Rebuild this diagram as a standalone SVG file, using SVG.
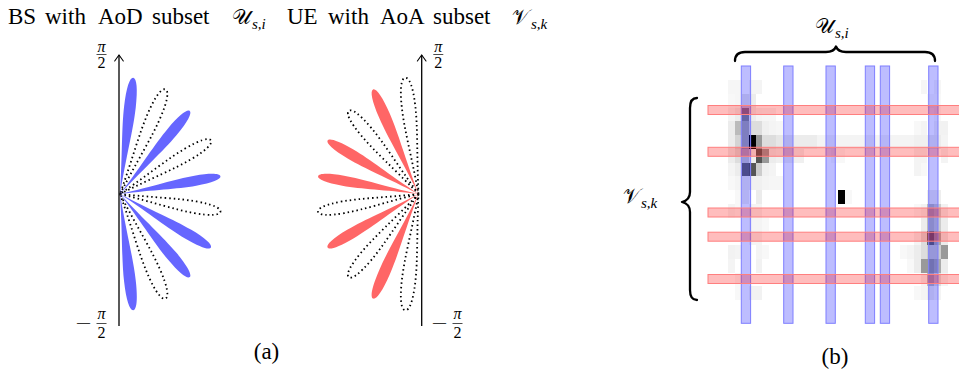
<svg xmlns="http://www.w3.org/2000/svg" xmlns:xlink="http://www.w3.org/1999/xlink" width="959" height="369" viewBox="0 0 959 369">
<style>
  text { font-family: "Liberation Serif", "DejaVu Serif", serif; fill: #000; }
  .t { font-size: 23px; }
  .m { font-style: italic; }
  .cal { font-family: "DejaVu Serif", "DejaVu Sans", "Noto Sans", serif; font-size: 21px; font-style: normal; font-weight: normal; }
  .sub { font-size: 15px; font-style: italic; }
  .frac { font-size: 16px; text-anchor: middle; }
  .axis { stroke: #000; stroke-width: 1.3; fill: none; }
  .bar { stroke-width: 1; }
  .aod { fill: #0000ff; fill-opacity: 0.26; stroke: #7f7fff; }
  .aoa { fill: #ff0000; fill-opacity: 0.26; stroke: #ff7f7f; }
  .brace { stroke: #000; stroke-width: 2.3; fill: none; stroke-linecap: round; stroke-linejoin: round; }
  .blue { fill: #6666ff; }
  .red { fill: #ff6666; }
  .dot { fill: none; stroke: #000; stroke-width: 1.8; stroke-dasharray: 1.5 3; }
</style>
<defs>
  <marker id="arr" viewBox="-8 -6 9 12" refX="0" refY="0" markerWidth="9" markerHeight="12" markerUnits="userSpaceOnUse" orient="auto" overflow="visible">
    <path d="M-6,-4.3 Q-2.2,-1.6 0,0 Q-2.2,1.6 -6,4.3" fill="none" stroke="#000" stroke-width="1.1" stroke-linecap="round"/>
  </marker>
  <path id="lobe" d="M0,0 C35,1.8 55,5 75,5 C91,5 100,3 100,0 C100,-3 91,-5 75,-5 C55,-5 35,-1.8 0,0Z"/>
  <path id="lobeD" d="M0,0 C35,2.4 55,5.8 75,5.8 C91,5.8 100,3.6 100,0 C100,-3.6 91,-5.8 75,-5.8 C55,-5.8 35,-2.4 0,0Z" vector-effect="non-scaling-stroke"/>
</defs>
<rect width="959" height="369" fill="#fff"/>

<g id="title" class="t">
  <text y="24"><tspan x="8">BS</tspan><tspan x="45">with</tspan><tspan x="98">AoD</tspan><tspan x="152">subset</tspan></text>
  <text y="24" class="cal" x="232">𝒰</text><text x="252" y="29" class="sub">s,i</text>
  <text y="24"><tspan x="287">UE</tspan><tspan x="328">with</tspan><tspan x="380">AoA</tspan><tspan x="433">subset</tspan></text>
  <text y="24" class="cal" x="512">𝒱</text><text x="531" y="29" class="sub">s,k</text>
</g>

<g id="bs-pattern">
  <g id="bs-beams">
    <use xlink:href="#lobeD" class="dot" transform="translate(120,194) rotate(-66.5) scale(1.14)"/>
    <use xlink:href="#lobeD" class="dot" transform="translate(120,194) rotate(-30.5) scale(1.055)"/>
    <use xlink:href="#lobeD" class="dot" transform="translate(120,194) rotate(10) scale(1.02)"/>
    <use xlink:href="#lobeD" class="dot" transform="translate(120,194) rotate(66.5) scale(1.14)"/>
    <use xlink:href="#lobe" class="blue" transform="translate(120,194) rotate(-83.5) scale(1.17)"/>
    <use xlink:href="#lobe" class="blue" transform="translate(120,194) rotate(-50) scale(1.085)"/>
    <use xlink:href="#lobe" class="blue" transform="translate(120,194) rotate(-10) scale(1.02)"/>
    <use xlink:href="#lobe" class="blue" transform="translate(120,194) rotate(30.5) scale(1.055)"/>
    <use xlink:href="#lobe" class="blue" transform="translate(120,194) rotate(50) scale(1.085)"/>
    <use xlink:href="#lobe" class="blue" transform="translate(120,194) rotate(83.5) scale(1.17)"/>
  </g>
  <line class="axis" x1="119" y1="326" x2="119" y2="55" marker-end="url(#arr)"/>
  <text class="frac m" x="101.5" y="51.5">π</text>
  <line x1="96.5" y1="54.5" x2="106.5" y2="54.5" stroke="#000" stroke-width="0.7"/>
  <text class="frac" x="101.5" y="68">2</text>
  <text class="frac" x="83.5" y="329" textLength="16" lengthAdjust="spacingAndGlyphs">−</text>
  <text class="frac m" x="101.5" y="319">π</text>
  <line x1="96.5" y1="323.5" x2="106.5" y2="323.5" stroke="#000" stroke-width="0.7"/>
  <text class="frac" x="101.5" y="338">2</text>
</g>

<g id="ue-pattern">
  <g id="ue-beams">
    <use xlink:href="#lobeD" class="dot" transform="translate(418.5,194) rotate(-96.5) scale(1.17)"/>
    <use xlink:href="#lobeD" class="dot" transform="translate(418.5,194) rotate(-130) scale(1.085)"/>
    <use xlink:href="#lobeD" class="dot" transform="translate(418.5,194) rotate(170) scale(1.02)"/>
    <use xlink:href="#lobeD" class="dot" transform="translate(418.5,194) rotate(130) scale(1.085)"/>
    <use xlink:href="#lobeD" class="dot" transform="translate(418.5,194) rotate(96.5) scale(1.17)"/>
    <use xlink:href="#lobe" class="red" transform="translate(418.5,194) rotate(-113.5) scale(1.14)"/>
    <use xlink:href="#lobe" class="red" transform="translate(418.5,194) rotate(-149.5) scale(1.055)"/>
    <use xlink:href="#lobe" class="red" transform="translate(418.5,194) rotate(-170) scale(1.02)"/>
    <use xlink:href="#lobe" class="red" transform="translate(418.5,194) rotate(149.5) scale(1.055)"/>
    <use xlink:href="#lobe" class="red" transform="translate(418.5,194) rotate(113.5) scale(1.14)"/>
  </g>
  <line class="axis" x1="421.7" y1="326" x2="421.7" y2="55" marker-end="url(#arr)"/>
  <text class="frac m" x="438.3" y="51.5">π</text>
  <line x1="433.3" y1="54.5" x2="443.3" y2="54.5" stroke="#000" stroke-width="0.7"/>
  <text class="frac" x="438.3" y="68">2</text>
  <text class="frac" x="439.5" y="329" textLength="16" lengthAdjust="spacingAndGlyphs">−</text>
  <text class="frac m" x="457.5" y="319">π</text>
  <line x1="452.5" y1="323.5" x2="462.5" y2="323.5" stroke="#000" stroke-width="0.7"/>
  <text class="frac" x="457.5" y="338">2</text>
</g>

<text id="label-a" class="t" x="266.5" y="359" text-anchor="middle">(a)</text>

<g id="heatmap" transform="translate(728,80) scale(6.875,13.75)" shape-rendering="crispEdges">
  <rect x="0" y="0" width="2" height="1" fill="#f6f6f6"/><rect x="3" y="0" width="2" height="1" fill="#f4f4f4"/><rect x="28" y="0" width="1" height="1" fill="#f6f6f6"/><rect x="30" y="0" width="1" height="1" fill="#f6f6f6"/>
  <rect x="0" y="1" width="1" height="1" fill="#f8f8f8"/><rect x="1" y="1" width="1" height="1" fill="#f6f6f6"/><rect x="2" y="1" width="1" height="1" fill="#e8e8e8"/><rect x="3" y="1" width="1" height="1" fill="#ececec"/><rect x="29" y="1" width="2" height="1" fill="#f8f8f8"/>
  <rect x="0" y="2" width="1" height="1" fill="#f4f4f4"/><rect x="1" y="2" width="1" height="1" fill="#ececec"/><rect x="2" y="2" width="1" height="1" fill="#888"/><rect x="3" y="2" width="1" height="1" fill="#ececec"/><rect x="4" y="2" width="1" height="1" fill="#f4f4f4"/><rect x="5" y="2" width="2" height="1" fill="#f6f6f6"/><rect x="30" y="2" width="1" height="1" fill="#f8f8f8"/>
  <rect x="0" y="3" width="1" height="1" fill="#ececec"/><rect x="1" y="3" width="1" height="1" fill="#bbb"/><rect x="2" y="3" width="1" height="1" fill="#aaa"/><rect x="3" y="3" width="2" height="1" fill="#ddd"/><rect x="5" y="3" width="1" height="1" fill="#f0f0f0"/><rect x="6" y="3" width="1" height="1" fill="#f4f4f4"/><rect x="7" y="3" width="1" height="1" fill="#f6f6f6"/><rect x="27" y="3" width="1" height="1" fill="#f8f8f8"/><rect x="28" y="3" width="1" height="1" fill="#f4f4f4"/><rect x="30" y="3" width="2" height="1" fill="#f2f2f2"/>
  <rect x="0" y="4" width="1" height="1" fill="#ececec"/><rect x="1" y="4" width="1" height="1" fill="#d4d4d4"/><rect x="2" y="4" width="1" height="1" fill="#aaa"/><rect x="3" y="4" width="1" height="1" fill="#000"/><rect x="4" y="4" width="1" height="1" fill="#999"/><rect x="5" y="4" width="2" height="1" fill="#ddd"/><rect x="7" y="4" width="1" height="1" fill="#e6e6e6"/><rect x="8" y="4" width="5" height="1" fill="#ececec"/><rect x="13" y="4" width="14" height="1" fill="#f4f4f4"/><rect x="27" y="4" width="2" height="1" fill="#f0f0f0"/><rect x="29" y="4" width="1" height="1" fill="#eee"/><rect x="30" y="4" width="1" height="1" fill="#ececec"/><rect x="31" y="4" width="1" height="1" fill="#f4f4f4"/>
  <rect x="0" y="5" width="1" height="1" fill="#ececec"/><rect x="1" y="5" width="1" height="1" fill="#ddd"/><rect x="2" y="5" width="1" height="1" fill="#ccc"/><rect x="3" y="5" width="1" height="1" fill="#eee"/><rect x="4" y="5" width="1" height="1" fill="#555"/><rect x="5" y="5" width="1" height="1" fill="#999"/><rect x="6" y="5" width="1" height="1" fill="#ececec"/><rect x="7" y="5" width="4" height="1" fill="#f0f0f0"/><rect x="15" y="5" width="2" height="1" fill="#f8f8f8"/><rect x="27" y="5" width="2" height="1" fill="#f4f4f4"/><rect x="31" y="5" width="1" height="1" fill="#f4f4f4"/>
  <rect x="0" y="6" width="1" height="1" fill="#f4f4f4"/><rect x="1" y="6" width="1" height="1" fill="#ececec"/><rect x="2" y="6" width="1" height="1" fill="#666"/><rect x="3" y="6" width="1" height="1" fill="#555"/><rect x="4" y="6" width="1" height="1" fill="#ccc"/><rect x="5" y="6" width="1" height="1" fill="#f0f0f0"/><rect x="6" y="6" width="1" height="1" fill="#f4f4f4"/><rect x="27" y="6" width="1" height="1" fill="#f4f4f4"/><rect x="28" y="6" width="1" height="1" fill="#f8f8f8"/>
  <rect x="0" y="7" width="1" height="1" fill="#f8f8f8"/><rect x="1" y="7" width="1" height="1" fill="#f4f4f4"/><rect x="2" y="7" width="1" height="1" fill="#eee"/><rect x="3" y="7" width="2" height="1" fill="#f0f0f0"/><rect x="5" y="7" width="1" height="1" fill="#f4f4f4"/><rect x="6" y="7" width="2" height="1" fill="#f6f6f6"/>
  <rect x="1" y="8" width="1" height="1" fill="#f8f8f8"/><rect x="2" y="8" width="1" height="1" fill="#f0f0f0"/><rect x="4" y="8" width="1" height="1" fill="#ececec"/><rect x="16" y="8" width="1" height="1" fill="#000"/><rect x="17" y="8" width="1" height="1" fill="#f8f8f8"/><rect x="29" y="8" width="2" height="1" fill="#eee"/>
  <rect x="0" y="9" width="1" height="1" fill="#f4f4f4"/><rect x="1" y="9" width="1" height="1" fill="#f8f8f8"/><rect x="3" y="9" width="2" height="1" fill="#f4f4f4"/><rect x="27" y="9" width="1" height="1" fill="#f8f8f8"/><rect x="28" y="9" width="1" height="1" fill="#f2f2f2"/><rect x="29" y="9" width="1" height="1" fill="#bbb"/><rect x="30" y="9" width="1" height="1" fill="#ccc"/><rect x="31" y="9" width="1" height="1" fill="#f2f2f2"/>
  <rect x="3" y="10" width="2" height="1" fill="#f4f4f4"/><rect x="5" y="10" width="1" height="1" fill="#f8f8f8"/><rect x="28" y="10" width="1" height="1" fill="#ececec"/><rect x="29" y="10" width="1" height="1" fill="#bbb"/><rect x="30" y="10" width="1" height="1" fill="#ccc"/><rect x="31" y="10" width="1" height="1" fill="#ececec"/>
  <rect x="3" y="11" width="2" height="1" fill="#f4f4f4"/><rect x="27" y="11" width="1" height="1" fill="#f4f4f4"/><rect x="28" y="11" width="1" height="1" fill="#ddd"/><rect x="29" y="11" width="1" height="1" fill="#666"/><rect x="30" y="11" width="1" height="1" fill="#aaa"/><rect x="31" y="11" width="1" height="1" fill="#ececec"/>
  <rect x="0" y="12" width="1" height="1" fill="#f2f2f2"/><rect x="1" y="12" width="1" height="1" fill="#f4f4f4"/><rect x="4" y="12" width="1" height="1" fill="#f4f4f4"/><rect x="5" y="12" width="1" height="1" fill="#f8f8f8"/><rect x="25" y="12" width="1" height="1" fill="#f8f8f8"/><rect x="26" y="12" width="1" height="1" fill="#f4f4f4"/><rect x="27" y="12" width="1" height="1" fill="#ececec"/><rect x="28" y="12" width="1" height="1" fill="#ddd"/><rect x="29" y="12" width="2" height="1" fill="#ccc"/><rect x="31" y="12" width="1" height="1" fill="#999"/>
  <rect x="0" y="13" width="1" height="1" fill="#f4f4f4"/><rect x="4" y="13" width="1" height="1" fill="#f2f2f2"/><rect x="26" y="13" width="1" height="1" fill="#f8f8f8"/><rect x="27" y="13" width="1" height="1" fill="#ececec"/><rect x="28" y="13" width="2" height="1" fill="#999"/><rect x="30" y="13" width="1" height="1" fill="#aaa"/><rect x="31" y="13" width="1" height="1" fill="#ececec"/>
  <rect x="1" y="14" width="1" height="1" fill="#f8f8f8"/><rect x="28" y="14" width="1" height="1" fill="#f4f4f4"/><rect x="29" y="14" width="1" height="1" fill="#bbb"/><rect x="30" y="14" width="1" height="1" fill="#ddd"/><rect x="31" y="14" width="1" height="1" fill="#f4f4f4"/>
  <rect x="1" y="15" width="1" height="1" fill="#f8f8f8"/><rect x="3" y="15" width="2" height="1" fill="#f2f2f2"/><rect x="27" y="15" width="1" height="1" fill="#f8f8f8"/><rect x="28" y="15" width="1" height="1" fill="#f4f4f4"/><rect x="29" y="15" width="1" height="1" fill="#ececec"/><rect x="30" y="15" width="1" height="1" fill="#f4f4f4"/>
</g>

<g id="aod-bars" class="bar">
  <rect class="aod" x="741.3" y="66" width="9.3" height="257.3"/>
  <rect class="aod" x="783.7" y="66" width="9.3" height="257.3"/>
  <rect class="aod" x="826" y="66" width="9.3" height="257.3"/>
  <rect class="aod" x="865.3" y="66" width="9.3" height="257.3"/>
  <rect class="aod" x="880.3" y="66" width="9.3" height="257.3"/>
  <rect class="aod" x="928.7" y="66" width="9.3" height="257.3"/>
</g>
<g id="aoa-bars" class="bar">
  <rect class="aoa" x="708" y="105.5" width="260" height="9"/>
  <rect class="aoa" x="708" y="147.3" width="260" height="9"/>
  <rect class="aoa" x="708" y="208" width="260" height="9"/>
  <rect class="aoa" x="708" y="232.2" width="260" height="9"/>
  <rect class="aoa" x="708" y="274.5" width="260" height="9"/>
</g>

<g id="brace-u">
  <path class="brace" d="M735,61 Q735,52 745,52 L826,52 Q834,52 836,46.5 Q838,52 846,52 L925,52 Q935,52 935,61"/>
  <text class="cal" x="815" y="33">𝒰</text><text x="835" y="38" class="sub">s,i</text>
</g>
<g id="brace-v">
  <path class="brace" d="M697,98 Q690,98 690,108 L690,192 Q690,200 682,202 Q690,204 690,212 L690,290 Q690,300 697,300"/>
  <text class="cal" x="623" y="203">𝒱</text><text x="641" y="208" class="sub">s,k</text>
</g>

<text id="label-b" class="t" x="835" y="364" text-anchor="middle">(b)</text>
</svg>
